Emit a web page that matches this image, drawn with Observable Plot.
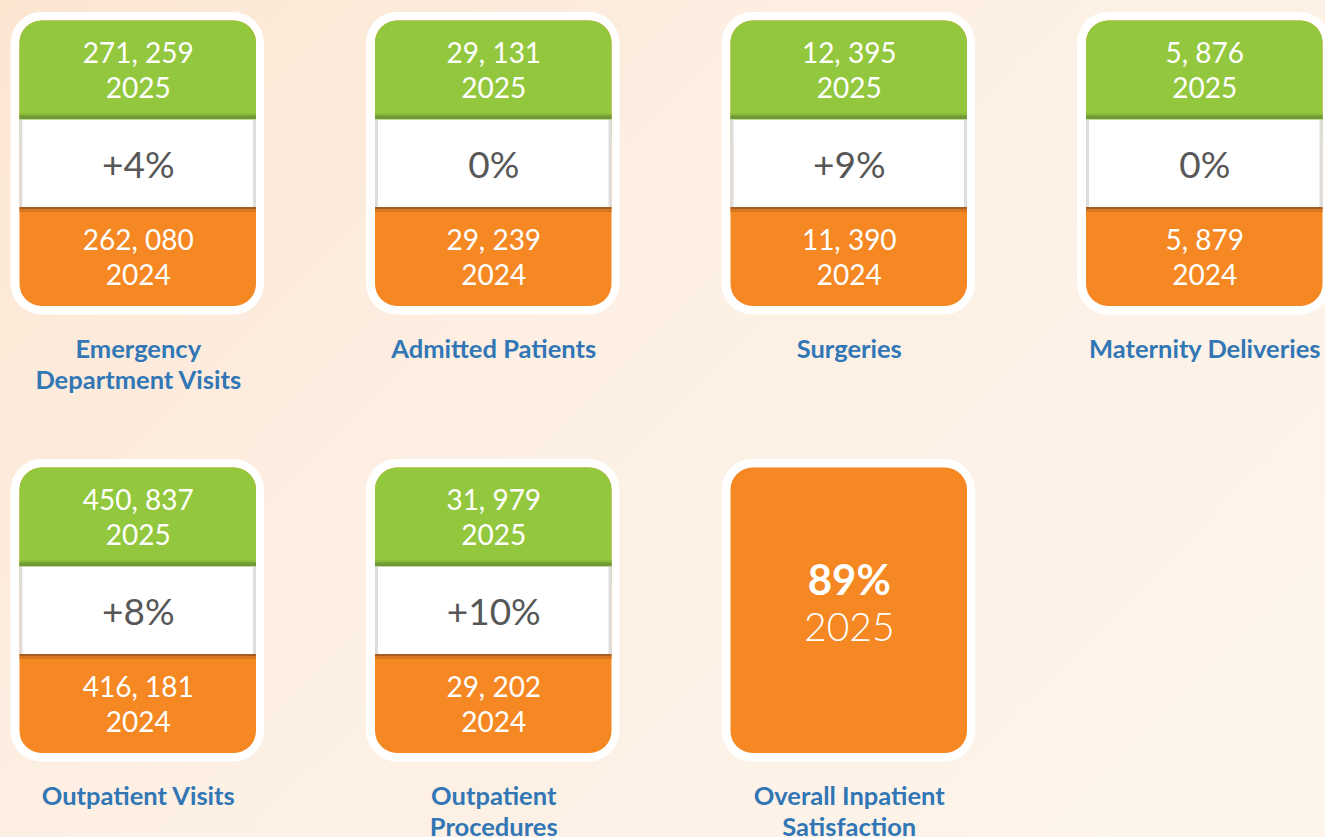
<!DOCTYPE html>
<html>
<head>
<meta charset="utf-8">
<script src="https://cdn.jsdelivr.net/npm/d3@7"></script>
<script src="https://cdn.jsdelivr.net/npm/@observablehq/plot@0.6"></script>
<style>
  html, body { margin: 0; padding: 0; width: 1325px; height: 837px; overflow: hidden; }
  body { background: linear-gradient(135deg, #fce6d2 0%, #fdefe3 40%, #fdf5ec 100%); }
  #chart svg { display: block; }
</style>
</head>
<body>
<div id="chart"></div>
<script>
// ---- Data ----
const labels = ["Emergency\nDepartment Visits", "Admitted Patients", "Surgeries", "Maternity Deliveries", "Outpatient Visits", "Outpatient\nProcedures"];
const values2025 = [271259, 29131, 12395, 5876, 450837, 31979];
const values2024 = [262080, 29239, 11390, 5879, 416181, 29202];
const changes = ["+4%", "0%", "+9%", "0%", "+8%", "+10%"];
const years = ["2025", "2024"];
const satisfactionLabel = "Overall Inpatient\nSatisfaction";
const satisfactionValue = "89%";
const satisfactionYear = "2025";

// ---- Layout (grid) ----
const COL0 = 19.5, COLSTEP = 355.5, CARDW = 236.5;
const ROW0 = 20.5, ROWSTEP = 447, CARDH = 285.5;
const BAND1 = 98, BAND2 = 186.5;
const fmt = v => d3.format(",")(v).replace(/,/g, ", ");

const cards = labels.map((label, i) => {
  const col = i % 4, row = Math.floor(i / 4);
  const x1 = COL0 + col * COLSTEP, y1 = ROW0 + row * ROWSTEP;
  return {label, v25: fmt(values2025[i]), v24: fmt(values2024[i]), change: changes[i],
    x1, x2: x1 + CARDW, cx: x1 + CARDW / 2, y1, y2: y1 + CARDH};
});
const sx1 = COL0 + 2 * COLSTEP, sy1 = ROW0 + ROWSTEP;
const sat = [{label: satisfactionLabel, value: satisfactionValue, year: satisfactionYear,
  x1: sx1, x2: sx1 + CARDW, cx: sx1 + CARDW / 2, y1: sy1, y2: sy1 + CARDH}];
const all = cards.concat(sat);

const GREEN = "#93c83e", ORANGE = "#f58823", BLUE = "#3176b5", GREY = "#575757";
const numFont = {fontFamily: "Lato", fill: "white", fontSize: 28, fontWeight: 400};

const chart = Plot.plot({
  width: 1325, height: 837, margin: 0,
  x: {domain: [0, 1325], range: [0, 1325], axis: null},
  y: {domain: [0, 837], range: [0, 837], axis: null},
  style: {background: "transparent", fontFamily: "Lato"},
  marks: [
    // white outer frames
    Plot.rect(all, {x1: d => d.x1 - 9, x2: d => d.x2 + 8, y1: d => d.y1 - 8.5, y2: d => d.y2 + 8.5, rx: 31, fill: "white"}),
    // orange full card
    Plot.rect(all, {x1: "x1", x2: "x2", y1: "y1", y2: "y2", rx: 22, fill: ORANGE}),
    // green top part
    Plot.rect(cards, {x1: "x1", x2: "x2", y1: "y1", y2: d => d.y1 + BAND1 + 40, rx: 22, fill: GREEN}),
    // green dark edge
    Plot.rect(cards, {x1: "x1", x2: "x2", y1: d => d.y1 + BAND1 - 5, y2: d => d.y1 + BAND1, fill: "#86b83a"}),
    Plot.rect(cards, {x1: "x1", x2: "x2", y1: d => d.y1 + BAND1 - 3, y2: d => d.y1 + BAND1 + 1, fill: "#6e9934"}),
    // white band
    Plot.rect(cards, {x1: "x1", x2: "x2", y1: d => d.y1 + BAND1 + 1, y2: d => d.y1 + BAND2, fill: "white"}),
    // band side shadows
    Plot.rect(cards, {x1: "x1", x2: d => d.x1 + 3, y1: d => d.y1 + BAND1 + 1, y2: d => d.y1 + BAND2, fill: "#cfcfcf", fillOpacity: 0.7}),
    Plot.rect(cards, {x1: d => d.x2 - 3, x2: "x2", y1: d => d.y1 + BAND1 + 1, y2: d => d.y1 + BAND2, fill: "#cfcfcf", fillOpacity: 0.7}),
    // orange dark edge
    Plot.rect(cards, {x1: "x1", x2: "x2", y1: d => d.y1 + BAND2, y2: d => d.y1 + BAND2 + 2, fill: "#a65d1f"}),
    Plot.rect(cards, {x1: "x1", x2: "x2", y1: d => d.y1 + BAND2 + 2, y2: d => d.y1 + BAND2 + 5, fill: "#d87722"}),
    // texts 2025
    Plot.text(cards, {x: "cx", y: d => d.y1 + 33, text: "v25", ...numFont}),
    Plot.text(cards, {x: "cx", y: d => d.y1 + 68, text: () => years[0], ...numFont}),
    // change
    Plot.text(cards, {x: "cx", y: d => d.y1 + 145, text: "change", fontFamily: "Lato", fill: GREY, fontSize: 37, fontWeight: 400}),
    // texts 2024
    Plot.text(cards, {x: "cx", y: d => d.y1 + 220, text: "v24", ...numFont}),
    Plot.text(cards, {x: "cx", y: d => d.y1 + 255, text: () => years[1], ...numFont}),
    // satisfaction
    Plot.text(sat, {x: "cx", y: d => d.y1 + 114, text: "value", fontFamily: "Lato", fill: "white", fontSize: 42, fontWeight: "bold"}),
    Plot.text(sat, {x: "cx", y: d => d.y1 + 161, text: "year", fontFamily: "Lato", fill: "white", fontSize: 39, fontWeight: 300}),
    // labels
    Plot.text(all, {x: "cx", y: d => d.y2 + 29.5, text: "label", lineAnchor: "top", lineHeight: 1.22, fontFamily: "Lato", fontWeight: "bold", fontSize: 25.5, fill: BLUE})
  ]
});
document.getElementById("chart").appendChild(chart);
</script>
</body>
</html>
